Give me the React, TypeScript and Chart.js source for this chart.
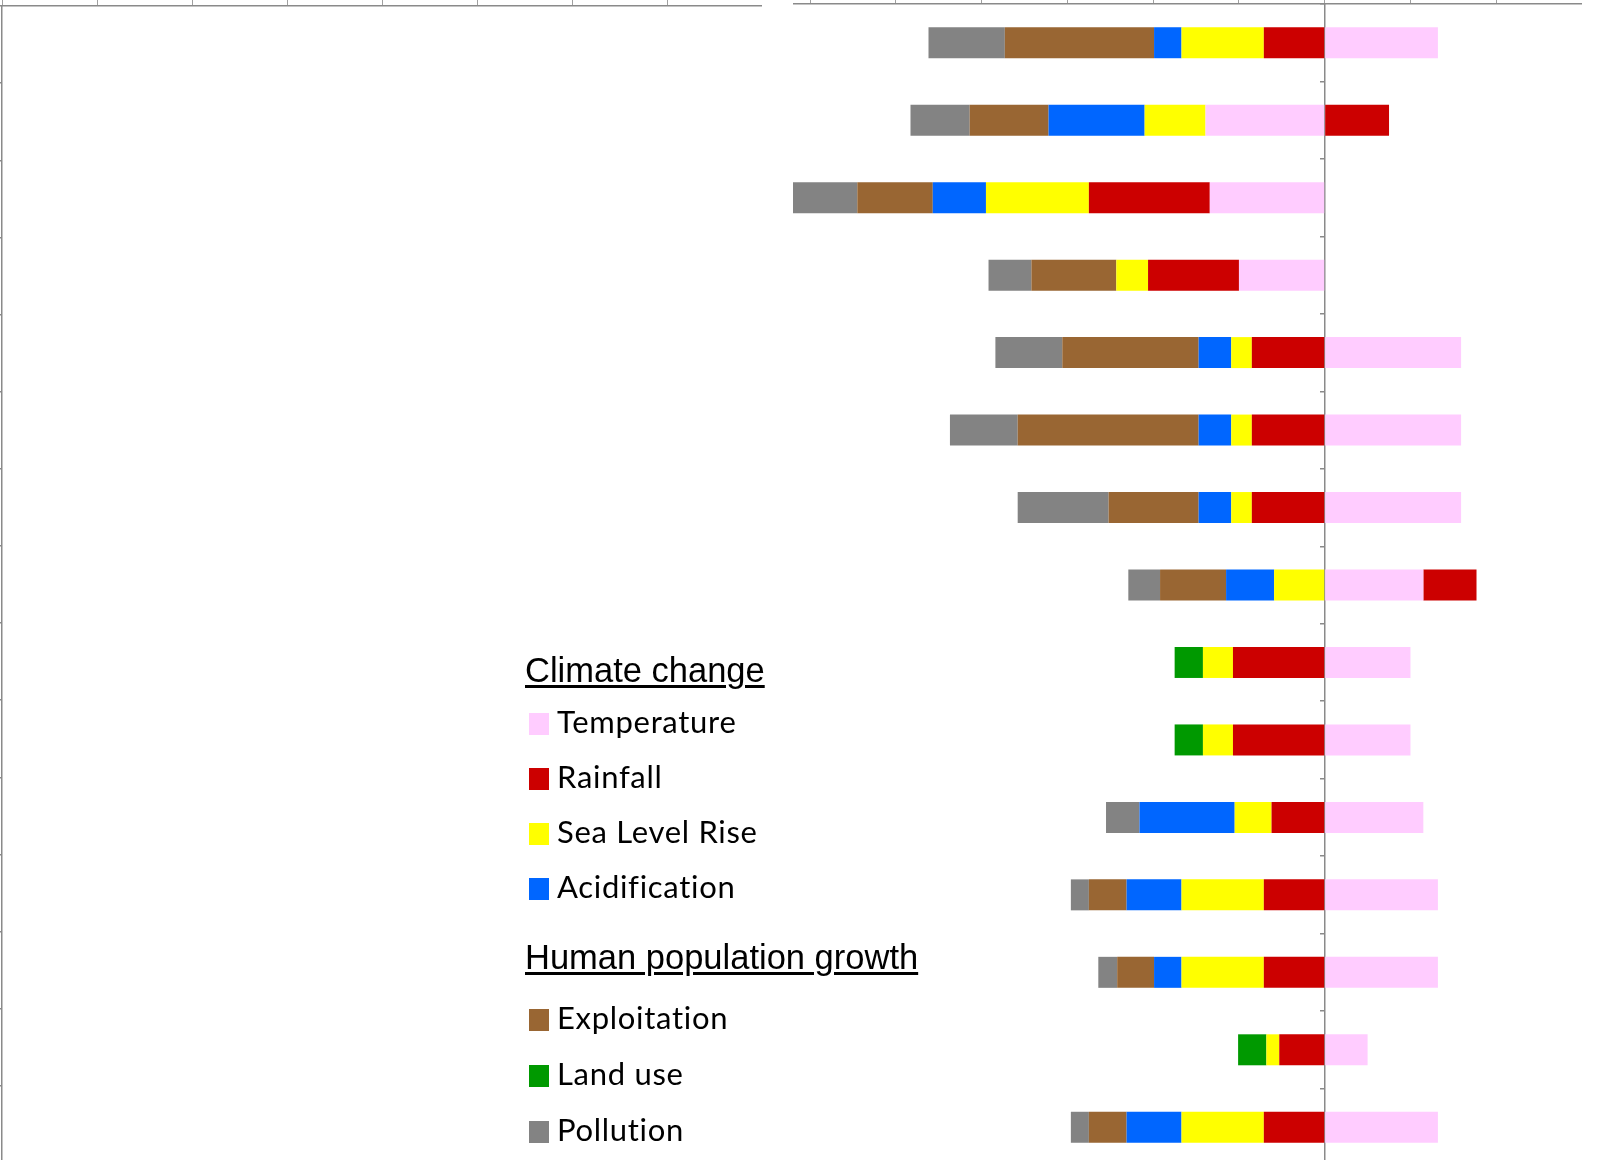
import React, { useEffect, useRef } from 'react';
import { Chart, registerables } from 'chart.js';

Chart.register(...registerables);

// rows of the chart (no labels are shown in the picture)
const rows = ['1', '2', '3', '4', '5', '6', '7', '8', '9', '10', '11', '12', '13', '14', '15'];

// values in units of one tick on the value axis
const temperature = [1.32, -1.39, -1.34, -1.0, 1.59, 1.59, 1.59, 1.15, 1.0, 1.0, 1.15, 1.32, 1.32, 0.5, 1.32];
const rainfall = [-0.71, 0.75, -1.41, -1.06, -0.85, -0.85, -0.85, 0.62, -1.07, -1.07, -0.62, -0.71, -0.71, -0.53, -0.71];
const seaLevelRise = [-0.96, -0.71, -1.2, -0.37, -0.24, -0.24, -0.24, -0.59, -0.35, -0.35, -0.43, -0.96, -0.96, -0.15, -0.96];
const acidification = [-0.32, -1.12, -0.62, 0, -0.38, -0.38, -0.38, -0.56, 0, 0, -1.11, -0.64, -0.32, 0, -0.64];
const landUse = [0, 0, 0, 0, 0, 0, 0, 0, -0.33, -0.33, 0, 0, 0, -0.33, 0];
const exploitation = [-1.74, -0.92, -0.88, -0.99, -1.59, -2.11, -1.05, -0.77, 0, 0, 0, -0.44, -0.43, 0, -0.44];
const pollution = [-0.89, -0.69, -0.77, -0.5, -0.78, -0.79, -1.06, -0.37, 0, 0, -0.39, -0.21, -0.22, 0, -0.21];

const seriesNames = ['Temperature', 'Rainfall', 'Sea Level Rise', 'Acidification', 'Land use', 'Exploitation', 'Pollution'];
const seriesColors = ['#FFCCFF', '#CC0000', '#FFFF00', '#0066FF', '#009900', '#996633', '#838383'];
const seriesValues = [temperature, rainfall, seaLevelRise, acidification, landUse, exploitation, pollution];

const climateGroup = ['Temperature', 'Rainfall', 'Sea Level Rise', 'Acidification'];
const populationGroup = ['Exploitation', 'Land use', 'Pollution'];

const AXIS_GRAY = '#8a8a8a';

const App: React.FC = () => {
  const leftRef = useRef<HTMLCanvasElement>(null);
  const rightRef = useRef<HTMLCanvasElement>(null);

  useEffect(() => {
    const charts: Chart[] = [];

    // Left panel: empty frame
    if (leftRef.current) {
      charts.push(new Chart(leftRef.current, {
        type: 'bar',
        data: { labels: rows, datasets: [] },
        options: {
          indexAxis: 'y',
          animation: false,
          responsive: true,
          maintainAspectRatio: false,
          layout: { padding: 0 },
          plugins: { legend: { display: false }, tooltip: { enabled: false } },
          scales: {
            x: {
              type: 'linear',
              position: 'top',
              min: 0,
              max: 8,
              ticks: { display: false, stepSize: 1 },
              grid: { drawOnChartArea: false, tickLength: 6, color: '#a0a0a0', lineWidth: 1 },
              border: { display: true, color: AXIS_GRAY, width: 1.5 },
            },
            y: {
              type: 'category',
              position: 'left',
              offset: true,
              ticks: { display: false },
              grid: { drawOnChartArea: false, offset: true, tickLength: 2, color: AXIS_GRAY, lineWidth: 1.5 },
              border: { display: true, color: AXIS_GRAY, width: 1.5 },
            },
          },
        },
      }));
    }

    // Right panel: stacked horizontal bars
    if (rightRef.current) {
      charts.push(new Chart(rightRef.current, {
        type: 'bar',
        data: {
          labels: rows,
          datasets: seriesNames.map((name, i) => ({
            label: name,
            data: seriesValues[i],
            backgroundColor: seriesColors[i],
            borderWidth: 0,
            barPercentage: 0.4,
            categoryPercentage: 1,
          })),
        },
        options: {
          indexAxis: 'y',
          animation: false,
          responsive: true,
          maintainAspectRatio: false,
          layout: { padding: 0 },
          plugins: { legend: { display: false }, tooltip: { enabled: false } },
          scales: {
            x: {
              type: 'linear',
              position: 'top',
              stacked: true,
              min: -6.2,
              max: 3,
              ticks: { display: false, stepSize: 1, includeBounds: false },
              grid: { drawOnChartArea: false, tickLength: 8, color: '#a0a0a0', lineWidth: 1 },
              border: { display: true, color: AXIS_GRAY, width: 1.5 },
            },
            y: {
              type: 'category',
              position: { x: 0 },
              stacked: true,
              offset: true,
              ticks: { display: false },
              grid: { drawOnChartArea: false, offset: true, tickLength: 4, color: AXIS_GRAY, lineWidth: 1.5 },
              border: { display: true, color: AXIS_GRAY, width: 1.5 },
            },
          },
        },
      }));
    }

    return () => {
      charts.forEach(chart => chart.destroy());
    };
  }, []);

  const headerStyle: React.CSSProperties = {
    position: 'absolute',
    left: 525,
    fontFamily: '"Liberation Sans", Arial, sans-serif',
    fontSize: 34.5,
    lineHeight: '34.5px',
    color: '#000',
    whiteSpace: 'nowrap',
    textDecoration: 'underline',
    textDecorationThickness: '2.5px',
    textUnderlineOffset: '3px',
  };

  const renderItem = (name: string, top: number) => {
    const color = seriesColors[seriesNames.indexOf(name)];
    return (
      <div key={name} style={{ position: 'absolute', left: 529, top, height: 22 }}>
        <div style={{ position: 'absolute', left: 0, top: 0, width: 20, height: 21.5, background: color }} />
        <div
          style={{
            position: 'absolute',
            left: 28,
            top: -7,
            fontFamily: 'Lato, "Open Sans", sans-serif',
            fontSize: 31,
            lineHeight: '31px',
            letterSpacing: '0.7px',
            color: '#000',
            whiteSpace: 'nowrap',
          }}
        >
          {name}
        </div>
      </div>
    );
  };

  return (
    <div
      style={{
        position: 'fixed',
        left: 0,
        top: 0,
        width: 1606,
        height: 1160,
        overflow: 'hidden',
        background: '#fff',
      }}
    >
      <div style={{ position: 'absolute', left: 0, top: 0, width: 762, height: 1163 }}>
        <canvas ref={leftRef}></canvas>
      </div>
      <div style={{ position: 'absolute', left: 793, top: -4, width: 789, height: 1170 }}>
        <canvas ref={rightRef}></canvas>
      </div>

      <div style={{ ...headerStyle, top: 653 }}>Climate change</div>
      {climateGroup.map((name, i) => renderItem(name, 713.3 + i * 55))}

      <div style={{ ...headerStyle, top: 940 }}>Human population growth</div>
      {populationGroup.map((name, i) => renderItem(name, 1009.3 + i * 56))}
    </div>
  );
};

export default App;
